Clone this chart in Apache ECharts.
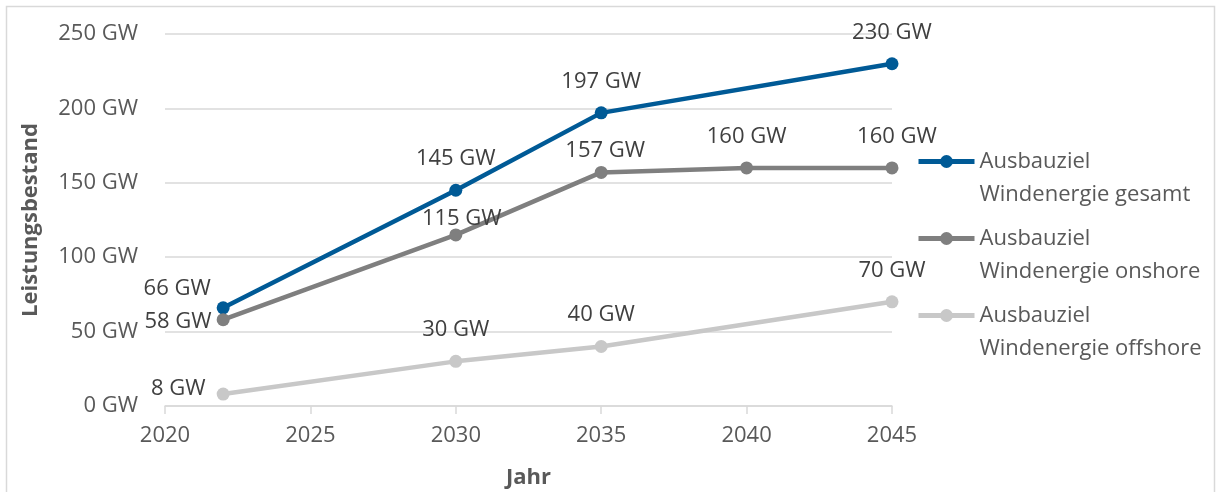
<!DOCTYPE html>
<html><head><meta charset="utf-8">
<script src="https://cdn.jsdelivr.net/npm/echarts@6/dist/echarts.min.js"></script>
<style>html,body{margin:0;padding:0;background:#fff}#c{width:1221px;height:492px}</style>
</head><body><div id="c"></div>
<script>
const seriesNames = ['Ausbauziel\nWindenergie gesamt','Ausbauziel\nWindenergie onshore','Ausbauziel\nWindenergie offshore'];
const yearsGesamt = [2022, 2030, 2035, 2045];
const valuesGesamt = [66, 145, 197, 230];
const yearsOnshore = [2022, 2030, 2035, 2040, 2045];
const valuesOnshore = [58, 115, 157, 160, 160];
const yearsOffshore = [2022, 2030, 2035, 2045];
const valuesOffshore = [8, 30, 40, 70];
const xTicks = [2020, 2025, 2030, 2035, 2040, 2045];
const yTicks = [0, 50, 100, 150, 200, 250];

const FONT = 'Open Sans';
const FS = 22;
const colors = ['#005a96', '#7f7f7f', '#c8c8c8'];

function build(years, vals, labelCfg) {
  return years.map((y, i) => {
    const d = {value: [y, vals[i]]};
    if (labelCfg[i]) d.label = labelCfg[i];
    return d;
  });
}
const lblGesamt = [{position: 'top', offset: [-46, 12]}, null, null, null];
const lblOnshore = [{position: 'left', distance: 5, offset: [0, 2]}, {position: 'top', distance: 0, offset: [6, 1]}, {position: 'top', distance: 4, offset: [4, 0]}, null, {position: 'top', offset: [5, 0]}];
const lblOffshore = [{position: 'left', distance: 11, offset: [0, -5]}, null, null, null];

const chart = echarts.init(document.getElementById('c'));
const mkSeries = (name, years, vals, color, lbl) => ({
  name, type: 'line', data: build(years, vals, lbl),
  symbol: 'circle', symbolSize: 13,
  lineStyle: {color, width: 4.5}, itemStyle: {color},
  label: {show: true, position: 'top', distance: 14, color: '#404040', fontFamily: FONT, fontSize: FS,
    formatter: p => p.value[1] + ' GW'},
  z: 3
});
chart.setOption({
  animation: false,
  textStyle: {fontFamily: FONT},
  graphic: [{type: 'rect', shape: {x: 6.5, y: 6.5, width: 1208, height: 520}, style: {fill: 'none', stroke: '#d9d9d9', lineWidth: 1.5}, silent: true}],
  grid: {left: 165, right: 329, top: 34, bottom: 86, outerBoundsMode: 'none', containLabel: false},
  xAxis: {
    type: 'value', min: xTicks[0], max: xTicks[xTicks.length - 1], interval: 5,
    name: 'Jahr', nameLocation: 'middle', nameGap: 61,
    nameTextStyle: {color: '#595959', fontWeight: 'bold', fontSize: FS, fontFamily: FONT},
    axisLine: {show: true, lineStyle: {color: '#d9d9d9', width: 1.5}},
    axisTick: {show: true, length: 8, lineStyle: {color: '#d9d9d9', width: 1.5}},
    axisLabel: {color: '#595959', fontSize: FS, margin: 19, fontFamily: FONT, formatter: v => String(v)},
    splitLine: {show: false}
  },
  yAxis: {
    type: 'value', min: yTicks[0], max: yTicks[yTicks.length - 1], interval: 50,
    name: 'Leistungsbestand', nameLocation: 'middle', nameGap: 123, nameRotate: 90,
    nameTextStyle: {color: '#595959', fontWeight: 'bold', fontSize: FS, fontFamily: FONT},
    axisLine: {show: false}, axisTick: {show: false},
    axisLabel: {color: '#595959', fontSize: FS, margin: 27, fontFamily: FONT, formatter: v => v + ' GW'},
    splitLine: {lineStyle: {color: '#d9d9d9', width: 1.5}}
  },
  legend: {
    orient: 'vertical', left: 916, top: 112, padding: 0,
    itemWidth: 56, itemHeight: 16, itemGap: -22,
    lineStyle: {width: 5},
    formatter: n => '\n' + n,
    textStyle: {color: '#595959', fontSize: FS, fontFamily: FONT, lineHeight: 33},
    data: seriesNames
  },
  series: [
    mkSeries(seriesNames[0], yearsGesamt, valuesGesamt, colors[0], lblGesamt),
    mkSeries(seriesNames[1], yearsOnshore, valuesOnshore, colors[1], lblOnshore),
    mkSeries(seriesNames[2], yearsOffshore, valuesOffshore, colors[2], lblOffshore)
  ]
});
</script></body></html>
